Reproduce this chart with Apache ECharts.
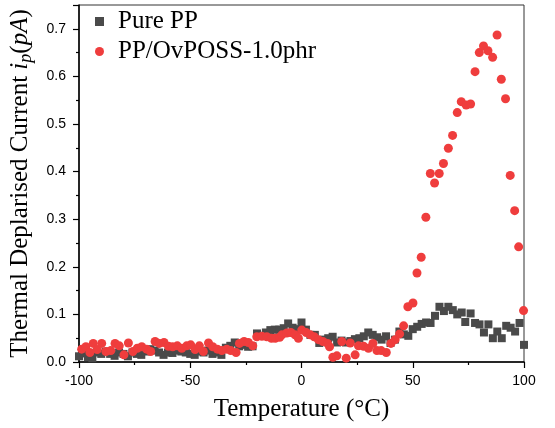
<!DOCTYPE html>
<html>
<head>
<meta charset="utf-8">
<script src="https://cdn.jsdelivr.net/npm/echarts@6/dist/echarts.min.js"></script>
<style>html,body{margin:0;padding:0;background:#fff}#c{width:555px;height:428px}</style>
</head>
<body>
<div id="c"></div>
<script>
const seriesNames = ['Pure PP', 'PP/OvPOSS-1.0phr'];
const xTicks = [-100, -50, 0, 50, 100];
const yTicks = [0.0, 0.1, 0.2, 0.3, 0.4, 0.5, 0.6, 0.7];

const tempPure = [-100,-98,-96,-94,-92,-90,-88,-86,-84,-82,-80,-78,-76,-74,-72,-70,-68,-66,-64,-62,-60,-58,-56,-54,-52,-50,-48,-46,-44,-42,-40,-38,-36,-34,-32,-30,-28,-26,-24,-22,-20,-18,-16,-14,-12,-10,-8,-6,-4,-2,0,2,4,6,8,10,12,14,16,18,20,22,24,26,28,30,32,34,36,38,40,42,44,46,48,50,52,54,56,58,60,62,64,66,68,70,72,73.6,76,78,80,82,84,86,88,90,92,94,96,98,100];
const currentPure = [0.012,0.018,0.010,0.008,0.020,0.017,0.022,0.017,0.013,0.020,0.017,0.012,0.020,0.017,0.015,0.022,0.027,0.024,0.020,0.015,0.020,0.019,0.024,0.022,0.020,0.017,0.015,0.022,0.020,0.024,0.017,0.020,0.015,0.030,0.034,0.041,0.033,0.036,0.032,0.033,0.060,0.055,0.062,0.067,0.068,0.068,0.071,0.081,0.072,0.069,0.083,0.068,0.057,0.057,0.040,0.047,0.050,0.053,0.041,0.045,0.041,0.044,0.048,0.050,0.054,0.062,0.057,0.052,0.047,0.054,0.040,0.047,0.064,0.058,0.055,0.069,0.074,0.080,0.083,0.082,0.097,0.116,0.107,0.116,0.109,0.100,0.104,0.084,0.102,0.082,0.079,0.062,0.079,0.050,0.064,0.050,0.076,0.072,0.064,0.082,0.036];

const tempOv = [-98.8,-96.9,-95.1,-93.6,-91.8,-89.8,-87.9,-85.7,-83.8,-81.9,-79.8,-77.8,-75.8,-73.8,-71.8,-69.6,-67.8,-65.8,-63.9,-61.8,-59.8,-57.9,-55.8,-53.8,-51.6,-49.8,-47.8,-45.9,-44.1,-41.8,-39.9,-37.8,-35.8,-33.6,-31.8,-29.4,-27.9,-25.8,-23.9,-21.9,-20.1,-17.8,-15.6,-13.5,-11.8,-9.8,-8.8,-6.6,-4.8,-2.9,-1.4,0.1,2.1,3.9,5.7,7.6,9.6,11.7,12.6,14.1,15.9,18.1,20.1,21.9,24.1,25.6,27.9,30.1,32.1,33.9,35.8,38.1,40.2,42.1,44.1,45.9,47.8,50.1,51.9,53.8,55.9,57.9,59.8,61.9,63.8,66.0,67.9,70.0,71.8,74.0,76.0,78.0,79.9,81.8,83.8,85.9,87.9,89.8,91.7,93.8,95.8,97.6,99.8];
const currentOv = [0.027,0.032,0.020,0.039,0.026,0.039,0.022,0.024,0.039,0.034,0.015,0.040,0.022,0.029,0.032,0.027,0.022,0.043,0.039,0.041,0.033,0.032,0.034,0.029,0.034,0.036,0.026,0.034,0.022,0.040,0.032,0.027,0.024,0.027,0.024,0.020,0.039,0.043,0.041,0.034,0.053,0.054,0.053,0.050,0.050,0.052,0.057,0.061,0.062,0.057,0.050,0.067,0.062,0.057,0.053,0.047,0.043,0.039,0.032,0.010,0.013,0.043,0.008,0.040,0.015,0.034,0.033,0.029,0.039,0.024,0.024,0.020,0.039,0.047,0.059,0.076,0.116,0.124,0.187,0.220,0.304,0.396,0.376,0.396,0.417,0.449,0.476,0.524,0.547,0.540,0.542,0.610,0.650,0.664,0.654,0.640,0.687,0.594,0.553,0.392,0.318,0.242,0.108];

const zip = (a, b) => a.map((v, i) => [v, b[i]]);

const chart = echarts.init(document.getElementById('c'), null, {renderer: 'canvas'});
const serif = '"Liberation Serif", "Times New Roman", serif';
const sans = '"Liberation Sans", Arial, sans-serif';

chart.setOption({
  animation: false,
  backgroundColor: '#fff',
  grid: {left: 79, right: 31, top: 5, bottom: 66, show: true, borderColor: '#333', borderWidth: 1},
  legend: {
    orient: 'vertical', left: 95, top: 9, padding: 0, itemGap: 5,
    itemWidth: 9, itemHeight: 9,
    textStyle: {fontFamily: serif, fontSize: 25, color: '#000', padding: [0, 0, 0, 9]},
    data: [{name: seriesNames[0], icon: 'rect'}, {name: seriesNames[1], icon: 'circle'}]
  },
  xAxis: {
    type: 'value', min: xTicks[0], max: xTicks[xTicks.length - 1], interval: 50,
    name: 'Temperature (\u00B0C)', nameLocation: 'middle', nameGap: 35,
    nameTextStyle: {fontFamily: serif, fontSize: 25, color: '#000'},
    axisLine: {show: true, onZero: false, lineStyle: {color: '#000', width: 1.5}},
    axisTick: {show: true, inside: false, length: 6, lineStyle: {color: '#000', width: 1.2}},
    minorTick: {show: true, splitNumber: 2, length: 3, lineStyle: {color: '#000', width: 1.2}},
    axisLabel: {fontFamily: sans, fontSize: 14, color: '#000', margin: 12},
    splitLine: {show: false}
  },
  yAxis: {
    type: 'value', min: 0, max: 0.75, interval: 0.1,
    name: '{n|Thermal Deplarised Current }{it|i}{sub|p}{n|(}{it|pA}{n|)}',
    nameLocation: 'middle', nameGap: 39,
    nameTextStyle: {
      fontFamily: serif, fontSize: 25, color: '#000',
      rich: {
        n: {fontFamily: serif, fontSize: 25, color: '#000'},
        it: {fontFamily: serif, fontSize: 25, fontStyle: 'italic', color: '#000'},
        sub: {fontFamily: serif, fontSize: 18, fontStyle: 'italic', color: '#000', padding: [12, 0, 0, 0]}
      }
    },
    axisLine: {show: true, onZero: false, lineStyle: {color: '#000', width: 1.5}},
    axisTick: {show: true, inside: false, length: 6, lineStyle: {color: '#000', width: 1.2}},
    minorTick: {show: true, splitNumber: 2, length: 3, lineStyle: {color: '#000', width: 1.2}},
    axisLabel: {fontFamily: sans, fontSize: 14, color: '#000', margin: 13, showMaxLabel: false,
      formatter: v => v.toFixed(1)},
    splitLine: {show: false}
  },
  series: [
    {name: seriesNames[0], type: 'scatter', symbol: 'rect', symbolSize: 8,
      itemStyle: {color: '#4a4a4a', opacity: 1}, data: zip(tempPure, currentPure), z: 2},
    {name: seriesNames[1], type: 'scatter', symbol: 'circle', symbolSize: 9,
      itemStyle: {color: '#ef3d3d', opacity: 1}, data: zip(tempOv, currentOv), z: 3}
  ]
});
</script>
</body>
</html>
